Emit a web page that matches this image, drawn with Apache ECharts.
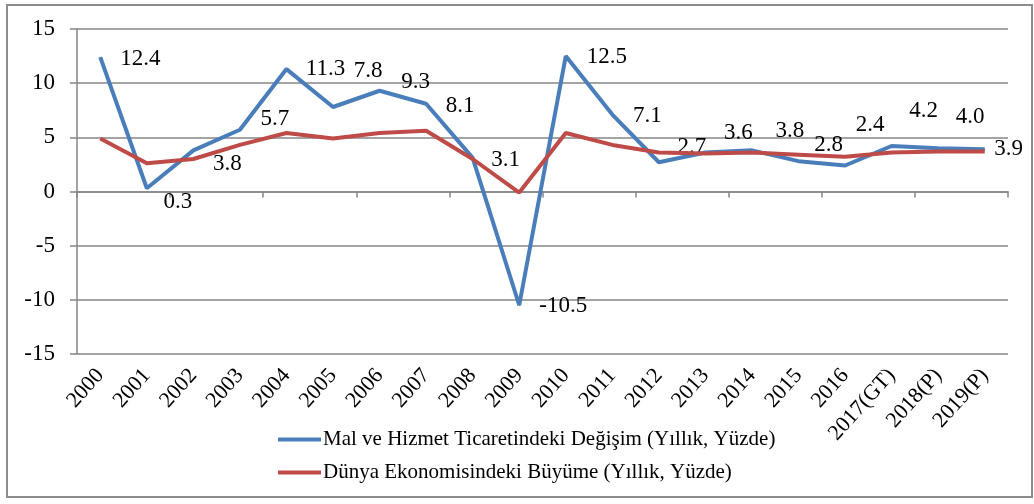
<!DOCTYPE html>
<html>
<head>
<meta charset="utf-8">
<script src="https://cdn.jsdelivr.net/npm/echarts@6/dist/echarts.min.js"></script>
<style>
  html, body { margin: 0; padding: 0; background: #fff; }
  #chart { width: 1034px; height: 504px; }
</style>
</head>
<body>
<div id="chart"></div>
<script>
// categories and values
var years = ['2000', '2001', '2002', '2003', '2004', '2005', '2006', '2007', '2008', '2009',
             '2010', '2011', '2012', '2013', '2014', '2015', '2016', '2017(GT)', '2018(P)', '2019(P)'];
var tradeChange = [12.4, 0.3, 3.8, 5.7, 11.3, 7.8, 9.3, 8.1, 3.1, -10.5,
                   12.5, 7.1, 2.7, 3.6, 3.8, 2.8, 2.4, 4.2, 4.0, 3.9];
var worldGrowth = [4.9, 2.6, 3.0, 4.3, 5.4, 4.9, 5.4, 5.6, 3.0, -0.1,
                   5.4, 4.3, 3.6, 3.5, 3.6, 3.4, 3.2, 3.6, 3.7, 3.7];
var yTicks = [-15, -10, -5, 0, 5, 10, 15];
var seriesNames = ['Mal ve Hizmet Ticaretindeki Değişim (Yıllık, Yüzde)',
                   'Dünya Ekonomisindeki Büyüme (Yıllık, Yüzde)'];

// where each value label sits relative to its point (as in the original)
var labelOffsets = [[40, 2], [31, 14], [34, 14], [35, -11], [39, 0], [35, -36], [36, -9], [34, 2],
                    [33, 2], [44, 1], [41, 1], [35, 1], [33, -15], [33, -20], [38, -19], [30, -16],
                    [25, -41], [32, -35], [32, -31], [24, 0]];

var font = 'Liberation Serif';
var gray = '#868686';

var chart = echarts.init(document.getElementById('chart'));

chart.setOption({
    animation: false,
    backgroundColor: '#fff',
    textStyle: { fontFamily: font },
    graphic: [{
        type: 'rect',
        shape: { x: 7, y: 5, width: 1025, height: 492 },
        style: { fill: 'none', stroke: '#8c8c8c', lineWidth: 2 },
        silent: true
    }],
    grid: { left: 77, right: 26, top: 29, bottom: 150 },
    legend: {
        orient: 'vertical',
        left: 273,
        top: 424,
        itemGap: 12,
        itemWidth: 43,
        itemHeight: 4,
        icon: 'rect',
        data: seriesNames,
        textStyle: { fontFamily: font, fontSize: 21, color: '#000', padding: [0, 0, 0, -3] }
    },
    xAxis: [{
        type: 'category',
        data: years,
        position: 'bottom',
        axisLine: { show: false, onZero: false },
        axisTick: { show: false },
        axisLabel: {
            rotate: 48,
            interval: 0,
            margin: 18,
            fontFamily: font,
            fontSize: 22,
            color: '#000'
        }
    }, {
        type: 'category',
        data: years,
        position: 'bottom',
        axisLine: { show: true, onZero: true, lineStyle: { color: gray, width: 1.5 } },
        axisTick: { show: true, length: 6, lineStyle: { color: gray, width: 1.5 } },
        axisLabel: { show: false }
    }],
    yAxis: {
        type: 'value',
        min: yTicks[0],
        max: yTicks[yTicks.length - 1],
        interval: 5,
        axisLine: { show: true, lineStyle: { color: gray, width: 1.5 } },
        axisTick: { show: true, length: 7, lineStyle: { color: gray, width: 1.5 } },
        splitLine: { show: true, lineStyle: { color: gray, width: 1.5 } },
        axisLabel: { margin: 22, fontFamily: font, fontSize: 23, color: '#000' }
    },
    series: [{
        name: seriesNames[0],
        type: 'line',
        xAxisIndex: 0,
        data: tradeChange.map(function (v, i) {
            return { value: v, label: { offset: labelOffsets[i] } };
        }),
        symbol: 'circle',
        symbolSize: 1,
        lineStyle: { color: '#4a7ebb', width: 4 },
        itemStyle: { color: '#4a7ebb' },
        label: {
            show: true,
            position: 'inside',
            fontFamily: font,
            fontSize: 23,
            color: '#000',
            formatter: function (p) { return p.value.toFixed(1); }
        },
        z: 3
    }, {
        name: seriesNames[1],
        type: 'line',
        xAxisIndex: 0,
        data: worldGrowth,
        symbol: 'none',
        lineStyle: { color: '#be4b48', width: 4 },
        itemStyle: { color: '#be4b48' },
        z: 4
    }]
});
</script>
</body>
</html>
